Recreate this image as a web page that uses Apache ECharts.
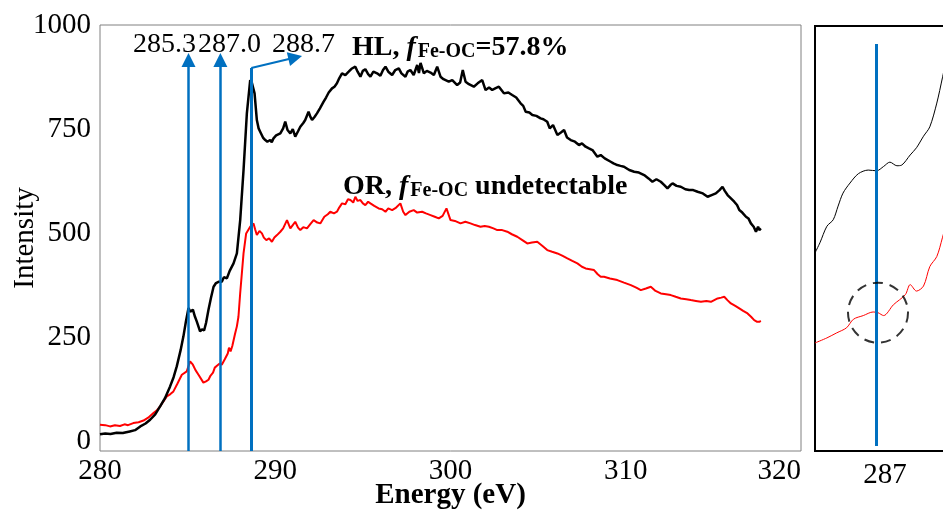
<!DOCTYPE html>
<html>
<head>
<meta charset="utf-8">
<script src="https://cdn.jsdelivr.net/npm/echarts@6/dist/echarts.min.js"></script>
<style>
  html, body { margin: 0; padding: 0; background: #fff; }
  #chart { width: 943px; height: 512px; }
</style>
</head>
<body>
<div id="chart"></div>
<script>
const FONT = '"Liberation Serif", "Times New Roman", serif'

// HL spectrum (black)
const energyHL = [
  280.0, 280.3, 280.6, 280.95, 281.3, 281.7, 282.0, 282.3, 282.6, 282.86, 283.15, 283.43, 283.7, 284.0, 284.2,
  284.38, 284.6, 284.76, 284.9, 285.05, 285.15, 285.3, 285.42, 285.52, 285.71, 285.82, 285.94, 286.05, 286.19, 286.33,
  286.48, 286.62, 286.76, 286.95, 287.07, 287.24, 287.4, 287.62, 287.81, 288.0, 288.19, 288.38, 288.57, 288.67, 288.82,
  288.95, 289.05, 289.14, 289.3, 289.43, 289.55, 289.62, 289.71, 289.8, 289.9, 290.05, 290.29, 290.45, 290.57, 290.7,
  290.86, 291.0, 291.14, 291.3, 291.43, 291.6, 291.71, 291.9, 292.0, 292.1, 292.25, 292.38, 292.55, 292.76, 292.9,
  293.05, 293.24, 293.38, 293.52, 293.65, 293.81, 294.0, 294.19, 294.35, 294.57, 294.7, 294.86, 295.0, 295.14, 295.3,
  295.43, 295.6, 295.81, 296.0, 296.15, 296.29, 296.45, 296.67, 296.85, 297.05, 297.2, 297.43, 297.55, 297.71, 297.9,
  298.1, 298.2, 298.29, 298.48, 298.65, 298.86, 299.05, 299.24, 299.43, 299.6, 299.9, 300.1, 300.38, 300.55, 300.7,
  300.86, 301.05, 301.33, 301.55, 301.81, 302.0, 302.2, 302.38, 302.55, 302.76, 303.05, 303.3, 303.52, 303.75, 304.0,
  304.15, 304.29, 304.5, 304.67, 304.9, 305.14, 305.3, 305.52, 305.66, 305.85, 306.1, 306.3, 306.48, 306.65, 306.86,
  307.1, 307.33, 307.5, 307.71, 307.9, 308.1, 308.38, 308.57, 308.8, 309.14, 309.3, 309.52, 309.7, 309.9, 310.2,
  310.48, 310.75, 311.05, 311.3, 311.52, 311.75, 312.0, 312.2, 312.38, 312.55, 312.67, 312.9, 313.14, 313.4, 313.62,
  313.85, 314.1, 314.4, 314.67, 314.9, 315.14, 315.35, 315.52, 315.65, 315.81, 316.0, 316.19, 316.35, 316.48, 316.65,
  316.86, 317.0, 317.14, 317.3, 317.43, 317.55, 317.62, 317.71
]
const intensityHL = [
  18, 20, 19, 22, 21, 25, 28, 37, 44, 53, 66, 85, 104, 133, 155,
  181, 220, 253, 288, 321, 312, 317, 300, 289, 265, 270, 267, 285, 317, 345,
  372, 381, 384, 384, 395, 392, 410, 428, 452, 532, 652, 788, 868, 861, 836,
  772, 752, 744, 730, 724, 720, 716, 724, 719, 728, 735, 740, 752, 768, 748,
  740, 750, 732, 745, 756, 765, 772, 792, 780, 772, 780, 788, 800, 816, 826,
  838, 848, 852, 860, 872, 884, 880, 888, 895, 900, 888, 876, 890, 894, 882,
  876, 888, 884, 878, 892, 900, 888, 880, 892, 896, 884, 876, 888, 892, 880,
  904, 885, 909, 884, 890, 886, 880, 900, 876, 870, 864, 868, 856, 862, 892,
  864, 858, 852, 860, 868, 844, 850, 844, 848, 852, 836, 838, 832, 826, 812,
  806, 792, 790, 784, 782, 776, 774, 768, 752, 760, 736, 742, 748, 730, 724,
  720, 712, 716, 708, 704, 700, 684, 688, 680, 672, 668, 664, 662, 660, 652,
  648, 646, 640, 632, 624, 630, 624, 616, 608, 616, 620, 614, 612, 606, 604,
  604, 600, 596, 588, 592, 596, 604, 612, 602, 592, 584, 576, 568, 556, 550,
  540, 536, 524, 516, 504, 516, 508, 512
]

// OR spectrum (red)
const energyOR = [
  280.0, 280.3, 280.57, 280.85, 281.14, 281.4, 281.6, 281.9, 282.2, 282.48, 282.75, 283.05, 283.25, 283.43, 283.6,
  283.81, 284.0, 284.19, 284.4, 284.67, 284.95, 285.14, 285.3, 285.45, 285.62, 285.9, 286.05, 286.19, 286.31, 286.45,
  286.55, 286.69, 286.83, 286.95, 287.12, 287.29, 287.36, 287.45, 287.55, 287.7, 287.81, 287.9, 288.0, 288.19, 288.34,
  288.57, 288.76, 288.85, 288.95, 289.1, 289.24, 289.35, 289.49, 289.65, 289.81, 289.95, 290.1, 290.29, 290.45, 290.67,
  290.86, 291.0, 291.14, 291.3, 291.43, 291.6, 291.81, 292.0, 292.19, 292.4, 292.57, 292.8, 293.0, 293.14, 293.35,
  293.52, 293.65, 293.81, 294.0, 294.15, 294.29, 294.45, 294.57, 294.7, 294.86, 295.0, 295.14, 295.3, 295.43, 295.65,
  295.9, 296.1, 296.29, 296.45, 296.67, 296.9, 297.14, 297.3, 297.43, 297.65, 297.9, 298.1, 298.38, 298.6, 298.86,
  299.1, 299.33, 299.55, 299.77, 300.0, 300.25, 300.57, 300.85, 301.14, 301.4, 301.71, 301.95, 302.19, 302.45, 302.67,
  302.95, 303.24, 303.5, 303.81, 304.1, 304.38, 304.65, 304.95, 305.25, 305.52, 305.8, 306.1, 306.4, 306.67, 306.95,
  307.24, 307.5, 307.71, 307.95, 308.19, 308.4, 308.57, 308.76, 309.1, 309.52, 309.9, 310.29, 310.6, 310.86, 311.15,
  311.43, 311.7, 312.0, 312.3, 312.57, 312.85, 313.14, 313.45, 313.71, 314.0, 314.29, 314.6, 314.86, 315.05, 315.24,
  315.45, 315.62, 315.8, 316.0, 316.25, 316.48, 316.7, 316.95, 317.15, 317.33, 317.5, 317.62, 317.71
]
const intensityOR = [
  41, 40, 37, 40, 38, 42, 40, 45, 47, 51, 58, 69, 76, 85, 96,
  109, 114, 121, 138, 161, 169, 193, 185, 172, 161, 142, 145, 149, 159, 166,
  178, 183, 188, 185, 198, 212, 226, 217, 230, 258, 277, 300, 357, 452, 500,
  516, 524, 510, 496, 506, 500, 490, 484, 488, 480, 490, 496, 504, 512, 532,
  512, 520, 528, 514, 508, 515, 512, 522, 532, 526, 524, 540, 546, 552, 548,
  552, 562, 572, 570, 582, 580, 574, 588, 578, 580, 572, 568, 576, 572, 566,
  560, 558, 552, 560, 556, 562, 572, 552, 544, 552, 556, 550, 552, 548, 544,
  540, 536, 542, 560, 532, 530, 524, 528, 524, 520, 516, 518, 516, 512, 508,
  508, 504, 498, 492, 484, 476, 478, 480, 470, 460, 456, 452, 446, 440, 434,
  428, 420, 416, 414, 412, 402, 396, 396, 392, 388, 382, 376, 370, 364, 368,
  372, 362, 356, 354, 352, 348, 344, 342, 340, 338, 336, 338, 336, 340, 344,
  346, 348, 340, 332, 326, 320, 314, 308, 300, 292, 288, 288, 290
]

// inset, zoom on 286-288 eV
const insetEnergyHL = [286.0, 286.07, 286.17, 286.26, 286.33, 286.4, 286.5, 286.62, 286.76, 286.88, 286.98, 287.07, 287.17, 287.24, 287.36, 287.45, 287.55, 287.64, 287.74, 287.82, 287.9]
const insetHL = [270, 284, 307, 316, 335, 353, 367, 380, 385, 384, 390, 396, 391, 392, 406, 416, 432, 445, 478, 513, 550]
const insetEnergyOR = [286.0, 286.17, 286.31, 286.45, 286.55, 286.69, 286.83, 286.9, 286.98, 287.12, 287.29, 287.36, 287.45, 287.55, 287.64, 287.74, 287.82, 287.9]
const insetOR = [145, 152, 159, 166, 178, 183, 188, 187, 183, 198, 212, 226, 217, 224, 251, 265, 291, 320]
const insetHighlight = [[286.9, 187]]

// peak positions (blue lines) and their labels
const peakEnergies = [285.05, 286.87, 288.63]
const peakLabels = ['285.3', '287.0', '288.7']
const yTicks = [0, 250, 500, 750, 1000]

const zip = (xs, ys) => xs.map((x, i) => [x, ys[i]])
const BLUE = '#0070c0'

const chart = echarts.init(document.getElementById('chart'))

chart.setOption({
  animation: false,
  textStyle: { fontFamily: FONT },
  grid: [
    { left: 100, top: 25, width: 701, height: 426, show: true, borderColor: '#808080', borderWidth: 1, outerBoundsMode: 'none', containLabel: false },
    { left: 815, top: 26, width: 140, height: 425, show: true, borderColor: '#000', borderWidth: 2, outerBoundsMode: 'none', containLabel: false },
  ],
  xAxis: [
    {
      type: 'value', gridIndex: 0, min: 280, max: 320, interval: 10,
      axisLine: { show: false }, axisTick: { show: false }, splitLine: { show: false },
      axisLabel: { fontSize: 29, color: '#000', margin: 6, fontFamily: FONT, alignMaxLabel: 'right' },
      name: 'Energy (eV)', nameLocation: 'middle', nameGap: 30, nameMoveOverlap: false,
      nameTextStyle: { fontSize: 29, fontWeight: 'bold', color: '#000', fontFamily: FONT },
    },
    {
      type: 'value', gridIndex: 1, min: 286, max: 288,
      axisLine: { show: false }, axisTick: { show: false }, splitLine: { show: false },
      axisLabel: { fontSize: 29, color: '#000', margin: 10, fontFamily: FONT, customValues: [287] },
    },
  ],
  yAxis: [
    {
      type: 'value', gridIndex: 0, min: -22, max: 1000,
      axisLine: { show: false }, axisTick: { show: false }, splitLine: { show: false },
      axisLabel: { fontSize: 29, color: '#000', margin: 9, fontFamily: FONT, customValues: yTicks, formatter: v => String(v) },
      name: 'Intensity', nameLocation: 'middle', nameGap: 60, nameMoveOverlap: false,
      nameTextStyle: { fontSize: 29, color: '#000', fontFamily: FONT },
    },
    { type: 'value', gridIndex: 1, min: -5, max: 585, show: false },
  ],
  series: [
    {
      type: 'line', name: 'HL', xAxisIndex: 0, yAxisIndex: 0,
      data: zip(energyHL, intensityHL), showSymbol: false,
      lineStyle: { color: '#000', width: 2.5 }, z: 3,
      markLine: {
        silent: true, animation: false, symbolSize: 14,
        label: { show: false },
        lineStyle: { color: BLUE, width: 2.5, type: 'solid' },
        emphasis: { disabled: true },
        data: [
          [{ coord: [peakEnergies[0], -22], symbol: 'none' }, { coord: [peakEnergies[0], 916], symbol: 'triangle' }],
          [{ coord: [peakEnergies[1], -22], symbol: 'none' }, { coord: [peakEnergies[1], 916], symbol: 'triangle' }],
          [{ coord: [peakEnergies[2], -22], symbol: 'none', lineStyle: { width: 3 } }, { coord: [peakEnergies[2], 897], symbol: 'none' }],
          [{ coord: [peakEnergies[2], 897], symbol: 'none', lineStyle: { width: 2 } }, { coord: [291.14, 922], symbol: 'triangle' }],
        ],
      },
    },
    {
      type: 'line', name: 'OR', xAxisIndex: 0, yAxisIndex: 0,
      data: zip(energyOR, intensityOR), showSymbol: false,
      lineStyle: { color: '#ff0000', width: 2 }, z: 2,
    },
    {
      type: 'line', xAxisIndex: 1, yAxisIndex: 1,
      data: zip(insetEnergyHL, insetHL), showSymbol: false, smooth: 0.3,
      lineStyle: { color: '#000', width: 1 },
      markLine: {
        silent: true, animation: false, symbol: 'none',
        label: { show: false },
        lineStyle: { color: BLUE, width: 3, type: 'solid' },
        data: [[{ coord: [peakEnergies[1], 2] }, { coord: [peakEnergies[1], 560] }]],
      },
    },
    {
      type: 'line', xAxisIndex: 1, yAxisIndex: 1,
      data: zip(insetEnergyOR, insetOR), showSymbol: false, smooth: 0.3,
      lineStyle: { color: '#ff0000', width: 1 },
    },
    {
      type: 'scatter', xAxisIndex: 1, yAxisIndex: 1,
      data: insetHighlight, symbol: 'circle', symbolSize: 60, silent: true,
      itemStyle: { color: 'rgba(0,0,0,0)', borderColor: '#000', borderWidth: 2, borderType: [10, 7] },
      z: 5,
    },
  ],
  graphic: [
    { type: 'text', left: 133, top: 31, style: { text: peakLabels[0], font: '28px ' + FONT, fill: '#000' } },
    { type: 'text', left: 198, top: 31, style: { text: peakLabels[1], font: '28px ' + FONT, fill: '#000' } },
    { type: 'text', left: 272, top: 31, style: { text: peakLabels[2], font: '28px ' + FONT, fill: '#000' } },
    {
      type: 'text', left: 352, top: 34,
      style: {
        text: '{b|HL, }{i|f}{s|Fe-OC}{b|=57.8%}',
        rich: {
          b: { fontSize: 28, fontWeight: 'bold', fontFamily: FONT, fill: '#000' },
          i: { fontSize: 28, fontWeight: 'bold', fontStyle: 'italic', fontFamily: FONT, fill: '#000' },
          s: { fontSize: 20, fontWeight: 'bold', fontFamily: FONT, fill: '#000', verticalAlign: 'bottom', padding: [0, 0, 0, 2] },
        },
      },
    },
    {
      type: 'text', left: 343, top: 173,
      style: {
        text: '{b|OR, }{i|f}{s|Fe-OC}{b| undetectable}',
        rich: {
          b: { fontSize: 28, fontWeight: 'bold', fontFamily: FONT, fill: '#000' },
          i: { fontSize: 28, fontWeight: 'bold', fontStyle: 'italic', fontFamily: FONT, fill: '#000' },
          s: { fontSize: 20, fontWeight: 'bold', fontFamily: FONT, fill: '#000', verticalAlign: 'bottom', padding: [0, 0, 0, 2] },
        },
      },
    },
  ],
})
</script>
</body>
</html>
